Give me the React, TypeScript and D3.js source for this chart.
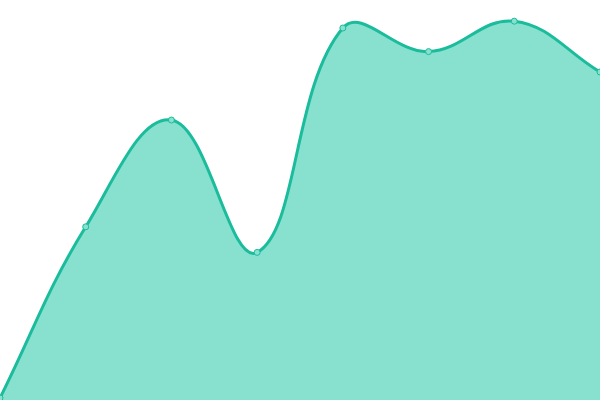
import React from 'react';
import * as d3 from 'd3';

const labels = ['A', 'B', 'C', 'D', 'E', 'F', 'G', 'H'];
const values = [0.5, 43.3, 70, 36.9, 93, 87.1, 94.7, 82];

const W = 600;
const H = 400;
const LINE = '#1abc9c';
const FILL = '#88e0cf';
const TENSION = 0.4;

type Pt = { x: number; y: number };

// distance-weighted spline control points
function splinePath(pts: Pt[], closeTo?: number) {
  const p = d3.path();
  const cps = pts.map((cur, i) => {
    const prev = pts[i - 1] || cur;
    const next = pts[i + 1] || cur;
    const d01 = Math.hypot(cur.x - prev.x, cur.y - prev.y);
    const d12 = Math.hypot(next.x - cur.x, next.y - cur.y);
    let s01 = d01 / (d01 + d12);
    let s12 = d12 / (d01 + d12);
    if (isNaN(s01)) s01 = 0;
    if (isNaN(s12)) s12 = 0;
    const fa = TENSION * s01;
    const fb = TENSION * s12;
    return {
      inX: cur.x - fa * (next.x - prev.x),
      inY: cur.y - fa * (next.y - prev.y),
      outX: cur.x + fb * (next.x - prev.x),
      outY: cur.y + fb * (next.y - prev.y),
    };
  });
  if (closeTo !== undefined) {
    p.moveTo(pts[0].x, closeTo);
    p.lineTo(pts[0].x, pts[0].y);
  } else {
    p.moveTo(pts[0].x, pts[0].y);
  }
  for (let i = 1; i < pts.length; i++) {
    p.bezierCurveTo(cps[i - 1].outX, cps[i - 1].outY, cps[i].inX, cps[i].inY, pts[i].x, pts[i].y);
  }
  if (closeTo !== undefined) {
    p.lineTo(pts[pts.length - 1].x, closeTo);
    p.closePath();
  }
  return p.toString();
}

const App: React.FC = () => {
  const x = d3.scalePoint<string>().domain(labels).range([0, W]);
  const y = d3.scaleLinear().domain([0, 100]).range([H, 0]);

  const pts = values.map((v, i) => ({ x: x(labels[i]) as number, y: y(v) }));

  return (
    <svg width={W} height={H} style={{ position: 'absolute', left: 0, top: 0, display: 'block' }}>
      <path d={splinePath(pts, H)} fill={FILL} />
      <path d={splinePath(pts)} fill="none" stroke={LINE} strokeWidth={3} />
      {pts.map((p, i) => (
        <circle key={i} cx={p.x} cy={p.y} r={3} fill={FILL} stroke={LINE} strokeWidth={1} />
      ))}
    </svg>
  );
};

export default App;
